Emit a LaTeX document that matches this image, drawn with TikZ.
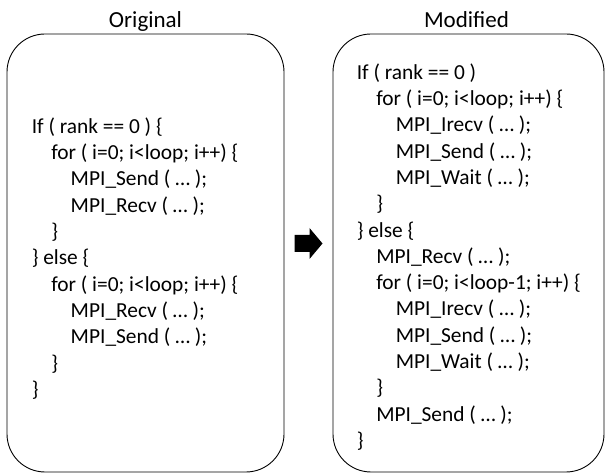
\documentclass[tikz,border=0pt]{standalone}
\usepackage{fontspec}
\setmainfont{Carlito}
\usetikzlibrary{positioning,calc}

\newcommand{\tb}{\hspace*{19.5pt}}   % one indent level

\tikzset{
  codebox/.style = {draw, line width=0.9pt, rounded corners=38pt,
                    minimum height=438pt, inner sep=0pt},
  code/.style    = {align=left, anchor=west, inner sep=0pt,
                    font=\fontsize{21.4}{26.3}\selectfont},
  title/.style   = {anchor=base, inner sep=0pt,
                    font=\fontsize{23}{28}\selectfont},
}

\begin{document}
\begin{tikzpicture}[x=1pt, y=1pt]
  \useasboundingbox (0,0) rectangle (606,473);

  % the two listings
  \node[codebox, minimum width=277pt] (orig) at (145.5,220) {};
  \node[codebox, minimum width=271pt] (mod)  at (468.5,220) {};

  \node[title] (origtitle) at ([yshift=6.5pt]orig.north) {Original};
  \node[title] (modtitle)  at ([xshift=-2pt,yshift=6.5pt]mod.north) {Modified};

  \node[code] (origcode) at ([xshift=25pt,yshift=-5.5pt]orig.west) {%
    If ( rank == 0 ) \{\\
    \tb for ( i=0; i<loop; i++) \{\\
    \tb\tb MPI\_Send ( … );\\
    \tb\tb MPI\_Recv ( … );\\
    \tb \}\\
    \} else \{\\
    \tb for ( i=0; i<loop; i++) \{\\
    \tb\tb MPI\_Recv ( … );\\
    \tb\tb MPI\_Send ( … );\\
    \tb \}\\
    \}};

  \node[code] (modcode) at ([xshift=24pt,yshift=-4pt]mod.west) {%
    If ( rank == 0 )\\
    \tb for ( i=0; i<loop; i++) \{\\
    \tb\tb MPI\_Irecv ( … );\\
    \tb\tb MPI\_Send ( … );\\
    \tb\tb MPI\_Wait ( … );\\
    \tb \}\\
    \} else \{\\
    \tb MPI\_Recv ( … );\\
    \tb for ( i=0; i<loop-1; i++) \{\\
    \tb\tb MPI\_Irecv ( … );\\
    \tb\tb MPI\_Send ( … );\\
    \tb\tb MPI\_Wait ( … );\\
    \tb \}\\
    \tb MPI\_Send ( … );\\
    \}};

  % block arrow between the listings
  \coordinate (mid) at ($(orig.east)!0.5!(mod.west)+(0,9.5)$);
  \fill[shift={(mid)}] (-14,-8.5) -- (1,-8.5) -- (1,-15.5) -- (14,0)
    -- (1,15.5) -- (1,8.5) -- (-14,8.5) -- cycle;
\end{tikzpicture}
\end{document}
